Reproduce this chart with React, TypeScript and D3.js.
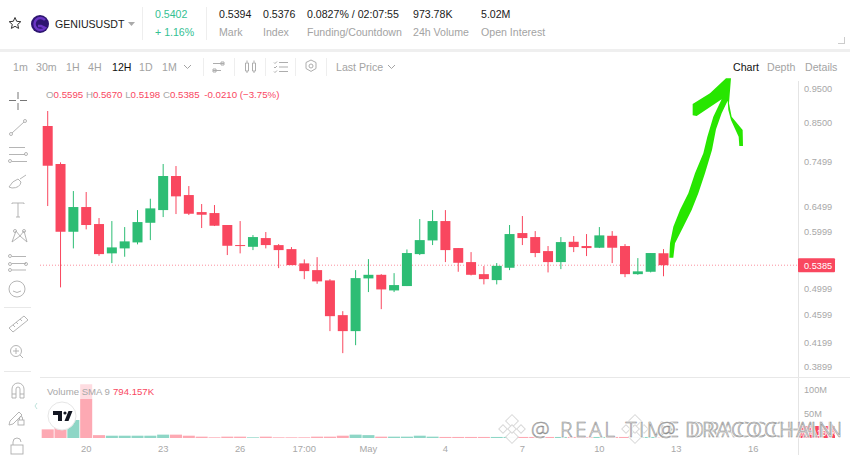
import React from "react";
import * as d3 from "d3";

const UP = "#2dbd74", DOWN = "#f9475f";
const opens = [.8411,.7447,.5994,.6488,.6144,.5593,.5683,.5793,.6169,.6425,.7166,.6742,.6384,.6364,.6125,.5744,.5712,.5874,.5743,.5670,.5417,.5301,.5129,.4589,.4360,.5162,.5222,.4967,.5037,.5580,.5830,.6203,.5689,.5439,.5233,.5134,.5341,.5969,.5893,.5634,.5439,.5805,.5726,.5695,.5917,.5726,.5233,.5273,.5595];
const highs = [.8825,.7487,.6829,.6808,.6263,.6203,.6085,.6425,.6663,.7447,.7399,.6939,.6551,.6530,.6125,.6203,.5931,.5989,.5762,.5707,.5486,.5526,.5150,.4648,.5301,.5491,.5233,.5250,.5664,.6243,.6425,.6425,.5689,.5616,.5370,.5422,.6125,.6304,.6007,.5726,.5893,.5912,.5950,.6085,.6007,.5762,.5509,.5599,.5670];
const lows = [.6509,.5016,.5683,.6040,.5550,.5422,.5533,.5757,.5836,.6283,.6344,.6324,.6066,.6105,.5563,.5593,.5652,.5683,.5335,.5387,.5150,.5074,.4360,.4063,.4168,.4941,.4678,.4941,.5037,.5563,.5744,.5439,.5273,.5212,.5064,.5064,.5301,.5744,.5526,.5262,.5318,.5616,.5545,.5689,.5422,.5183,.5222,.5262,.5198];
const closes = [.7406,.5994,.6488,.6125,.5580,.5701,.5812,.6183,.6460,.7166,.6714,.6350,.6330,.6111,.5731,.5726,.5893,.5744,.5652,.5387,.5284,.5113,.4574,.4360,.5167,.5222,.4983,.5053,.5599,.5836,.6203,.5652,.5427,.5222,.5150,.5374,.5950,.5874,.5599,.5439,.5799,.5707,.5689,.5925,.5695,.5233,.5280,.5599,.5385];
const volumes = [18,21,37.5,112,6,4.8,4.8,4.8,4.8,7,7,4.8,2.8,1.4,2.8,2.8,1.4,2.8,1.4,1.4,1.4,2.8,2.8,4.8,7,6,2.8,2.8,2.8,4.8,2.8,2.2,2.2,2.2,2.2,2.2,2.2,2.2,2.2,2.2,2.2,2.2,2.2,2.2,2.2,2.2,2.2,2.2,0.8];
const priceTicks = [0.95,0.85,0.7499,0.6499,0.5999,0.4999,0.4599,0.4199,0.3899];
const volTicks: [number,string][] = [[100,"100M"],[50,"50M"]];
const dateIdx = [3,9,15,20,25,31,37,43,49,55];
const dateLabels = ["20","23","26","17:00","May","4","7","10","13","16"];
const lastPrice = 0.5385;
const intervals = ["1m","30m","1H","4H","12H","1D","1M"];
const intervalX = [13,36,66,88,112,139,162];

const x = d3.scaleLinear().domain([0,48]).range([47.7,663.5]);
const y = d3.scaleLog().domain([0.95,0.3899]).range([88,366]);
const v = d3.scaleLinear().domain([0,100]).range([438,390]);

const F = "'Liberation Sans', Arial, sans-serif";
const GRAY = "#a3a3a3", AX = "#a8a8a8", IC = "#adadad";

const T = (p: any) => <text fontFamily={F} fontSize={10.6} {...p} />;
const Stat = ({xp, a, b}: {xp:number,a:string,b:string}) => <g>
  <T x={xp} y={18} fill="#1a1a1a">{a}</T>
  <T x={xp} y={36} fill={GRAY}>{b}</T>
</g>;

const arrow = "M58,563 L60,520 L70,470 L90,420 L115,370 L135,310 L160,250 L172,200 L190,140 L215,88 L140,138 L128,136 L128,102 L180,70 L228,25 L243,25 L237,100 L245,140 L278,180 L279,228 L268,228 L266,200 L243,150 L235,120 L233,92 L215,130 L198,178 L186,240 L165,310 L145,370 L125,420 L100,470 L75,520 L70,563 Z";

const Diamond = ({cx, cy}: {cx:number,cy:number}) => {
  const cells: [number,number,number][] = [[0,-8,4.5],[-9,0,3],[9,0,3],[0,8,4.5],[0,0,3]];
  return <g>{cells.map(([a,b,s],i)=><rect key={i} x={cx+a-s} y={cy+b-s} width={2*s} height={2*s} transform={`rotate(45 ${cx+a} ${cy+b})`} fill="#fff" stroke="#d8d8d8" strokeWidth={1} opacity={0.95}/>)}</g>;
};

const WM = (p: any) => <g>
  <text {...p} fontFamily="'Open Sans', sans-serif" fontSize={21} fontWeight={300} fill="none" stroke="#fff" strokeOpacity={0.8} strokeWidth={2.5}>{p.children}</text>
  <text {...p} fontFamily="'Open Sans', sans-serif" fontSize={21} fontWeight={300} fill="#f6f6f6" fillOpacity={0.5} stroke="#8a8a8a" strokeWidth={0.55}>{p.children}</text>
</g>;

export default function App() {
  const n = opens.length;
  const barW = x(1)-x(0);
  return (
    <svg width={850} height={455} style={{position:"fixed",left:0,top:0,background:"#fff"}}>
      {/* header */}
      <rect x={0} y={49} width={850} height={3} fill="#efefef"/>
      <path d="M15,17.5 l1.7,3.8 4.1,.4 -3.1,2.7 .9,4 -3.6,-2.1 -3.6,2.1 .9,-4 -3.1,-2.7 4.1,-.4 z" fill="none" stroke="#333" strokeWidth={1}/>
      <circle cx={40} cy={24} r={9} fill="#2d1570"/>
      <path d="M45,20 a6,6 0 1 0 0,8 l-4,-2 h-3" fill="none" stroke="#6a35c4" strokeWidth={2.5}/>
      <T x={55} y={27.5} fill="#1a1a1a">GENIUSUSDT</T>
      <path d="M128,22 h7 l-3.5,4 z" fill="#aaa"/>
      <rect x={142} y={7} width={1} height={33} fill="#eee"/>
      <T x={155} y={18} fill="#34c193">0.5402</T>
      <T x={155} y={36} fill="#34c193">+ 1.16%</T>
      <rect x={206} y={7} width={1} height={33} fill="#eee"/>
      <Stat xp={219} a="0.5394" b="Mark"/>
      <Stat xp={263} a="0.5376" b="Index"/>
      <Stat xp={307} a="0.0827% / 02:07:55" b="Funding/Countdown"/>
      <Stat xp={413} a="973.78K" b="24h Volume"/>
      <Stat xp={481} a="5.02M" b="Open Interest"/>
      <path d="M844,43.5 h-6 M844.5,37 v7" stroke="#ccc" fill="none"/>

      {/* toolbar */}
      {intervals.map((t,i)=><T key={t} x={intervalX[i]} y={71} fill={t==="12H"?"#111":GRAY}>{t}</T>)}
      <path d="M184,65 l3.5,3.5 3.5,-3.5" fill="none" stroke={GRAY}/>
      {[203,234,265,295,326].map(d=><rect key={d} x={d} y={58} width={1} height={18} fill="#eee"/>)}
      <path d="M213,70.5 h8 M213,69 h3 v3 h-3 z M224,63.5 h-11 M221,62 h3 v3 h-3 z" fill="none" stroke={IC}/>
      <path d="M245.5,63 h3 v8 h-3 z M252.5,63 h3 v8 h-3 z M247,60.5 v2 M247,71 v2 M254,60.5 v2 M254,71 v2" fill="none" stroke={IC}/>
      <path d="M279,62.5 h9 M279,67 h9 M279,71.5 h9 M274,62.5 l1,1 2,-2 M274,67 l1,1 2,-2 M274,71.5 l1,1 2,-2" fill="none" stroke={IC}/>
      <path d="M311,60 l5,2.5 v6 l-5,2.9 -5,-2.9 v-6 z" fill="none" stroke={IC}/><circle cx={311} cy={66} r={2} fill="none" stroke={IC}/>
      <T x={336} y={71} fill={GRAY}>Last Price</T>
      <path d="M388,65 l3.5,3.5 3.5,-3.5" fill="none" stroke={GRAY}/>
      <T x={733} y={71} fill="#111">Chart</T>
      <T x={767} y={71} fill={GRAY}>Depth</T>
      <T x={805} y={71} fill={GRAY}>Details</T>

      {/* frames */}
      <rect x={798} y={81} width={1} height={374} fill="#e4e4e4"/>
      <rect x={40} y={377} width={810} height={1} fill="#e8e8e8"/>
      <rect x={4} y={307} width={27} height={1} fill="#e8e8e8"/>
      <rect x={4} y={371} width={27} height={1} fill="#e8e8e8"/>

      {/* left tools */}
      <g fill="none" stroke={IC} strokeWidth={0.9}>
        <path d="M9,100.5 h7 M20,100.5 h7 M18,92 v7 M18,103 v7" stroke="#666"/>
        <path d="M12,133 L24,122"/><circle cx={11} cy={134} r={1.5}/><circle cx={25} cy={121} r={1.5}/>
        <path d="M9,147.5 h16 M9,154.5 h16 M12,161.5 h15"/><circle cx={26} cy={154} r={1.5}/><circle cx={10} cy={161} r={1.5}/>
        <path d="M9,187 q3,-6 9,-8 l3,3 q-1,6 -9,6 z M20,179 l6,-4"/>
        <path d="M12,204 v-1 h12 v1 M18,203 v14 M16,217 h4"/>
        <path d="M12,242 l4,-11 4,5 4,-5 3,11 M12,242 l8,-6 7,6"/><circle cx={15} cy={231} r={1.5}/><circle cx={24} cy={231} r={1.5}/>
        <path d="M12,256.5 h14 M12,263.5 h14 M12,270 h14"/><circle cx={10} cy={256} r={1.5}/><circle cx={10} cy={264} r={1.5}/><circle cx={10} cy={270} r={1.5}/><circle cx={26} cy={264} r={1.5}/>
        <circle cx={17} cy={289} r={8}/><path d="M13,291 q4,3 8,0"/>
        <path d="M9,328 l15,-12 4,4 -15,12 z M13,325 l2,2 M16,322 l2,2 M20,319 l2,2"/>
        <circle cx={16} cy={351} r={5.5}/><path d="M13,351 h6 M16,348 v6 M20,355 l3,3"/>
        <path d="M12,398 v-9 a6,6 0 0 1 12,0 v9 h-4 v-9 a2,2 0 0 0 -4,0 v9 z M12,394 h4 M20,394 h4"/>
        <path d="M10,421 l9,-9 3,3 -9,9 -4,1 z"/><rect x={18} y={420} width={6} height={5}/><path d="M19.5,420 v-2 a1.5,1.5 0 0 1 3,0 v2"/>
        <rect x={11} y={445} width={12} height={9}/><path d="M13,445 v-3 a4,4 0 0 1 8,0"/>
      </g>
      <path d="M37,403 l-2,3 2,3" fill="none" stroke="#bfe3dc"/>

      {/* OHLC legend */}
      <text x={46} y={98} fontFamily={F} fontSize={9.7} fill={DOWN}>
        <tspan fill={AX}>O</tspan>0.5595 <tspan fill={AX}>H</tspan>0.5670 <tspan fill={AX}>L</tspan>0.5198 <tspan fill={AX}>C</tspan>0.5385 <tspan dx={2}>-0.0210 (−3.75%)</tspan>
      </text>

      {/* last price line */}
      <line x1={40} x2={798} y1={y(lastPrice)} y2={y(lastPrice)} stroke={DOWN} strokeOpacity={0.6} strokeDasharray="1 2"/>

      {/* volume */}
      {volumes.map((d,i)=>{
        const up = closes[i]>=opens[i];
        return <rect key={i} x={x(i)-barW/2+0.4} width={barW-0.8} y={v(d)} height={v(0)-v(d)} fill={up?"#8ed6c6":"#fda9b3"}/>;
      })}

      {/* candles */}
      {d3.range(n).map(i=>{
        const up = closes[i]>=opens[i], c = up?UP:DOWN;
        const top = y(Math.max(opens[i],closes[i])), bot = y(Math.min(opens[i],closes[i]));
        return <g key={i}>
          <rect x={x(i)-0.5} width={1} y={y(highs[i])} height={y(lows[i])-y(highs[i])} fill={c}/>
          <rect x={x(i)-5} width={10} y={top} height={Math.max(bot-top,1)} fill={c}/>
        </g>;
      })}

      {/* volume legend */}
      <rect x={44} y={384} width={112} height={15} fill="#fff" fillOpacity={0.6}/>
      <text x={47} y={395} fontFamily={F} fontSize={9.6} fill={AX}>Volume SMA 9</text>
      <text x={113} y={395} fontFamily={F} fontSize={9.6} fill={DOWN}>794.157K</text>

      {/* axes */}
      {priceTicks.map(t=><text key={t} x={804} y={y(t)+3.5} fontFamily={F} fontSize={9.2} fill={AX}>{t.toFixed(4)}</text>)}
      {volTicks.map(([t,l])=><text key={l} x={804} y={v(t)+2.5} fontFamily={F} fontSize={9.2} fill={AX}>{l}</text>)}
      {dateIdx.map((d,i)=><text key={d} x={x(d)} y={452} textAnchor="middle" fontFamily={F} fontSize={9.4} fill={AX}>{dateLabels[i]}</text>)}
      <rect x={798} y={y(lastPrice)-7} width={37} height={14} rx={1} fill={DOWN}/>
      <text x={804} y={y(lastPrice)+3.5} fontFamily={F} fontSize={9.2} fill="#fff">{lastPrice.toFixed(4)}</text>
      <rect x={798} y={426} width={37} height={12} fill={DOWN}/>
      <text x={800} y={435.5} fontFamily={F} fontSize={8.6} fill="#fff">794.157K</text>

      {/* tv logo */}
      <circle cx={62} cy={416} r={14} fill="#fff" stroke="#e6e6e6"/>
      <path d="M53,411 h9 v10 h-4 v-6 h-5 z M64.5,421 l4,-10 h4 l-4,10 z" fill="#131722"/>
      <circle cx={65} cy={413} r={1.6} fill="#131722"/>

      {/* arrow */}
      <path d={arrow} transform="translate(650,70) scale(0.3333)" fill="#27e600"/>

      {/* watermark */}
      <Diamond cx={512} cy={429}/>
      <Diamond cx={635} cy={429}/>
      <WM x={531} y={437} letterSpacing={2.5}>@ REAL TIME DRACOCHAIN</WM>
      <WM x={657} y={437} letterSpacing={2}>@ DRACOCHAIN</WM>
    </svg>
  );
}
